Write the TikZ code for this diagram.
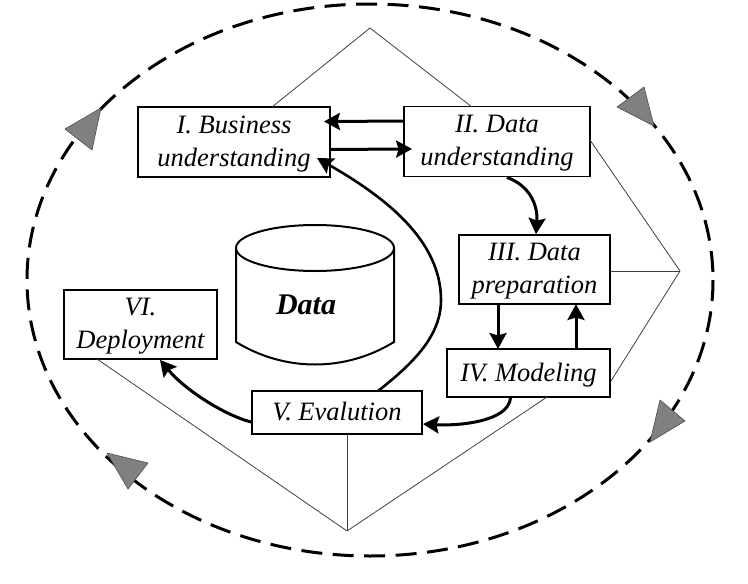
\documentclass[tikz,border=0pt]{standalone}
\usepackage{fontspec}
\setmainfont{Liberation Serif}
\usetikzlibrary{arrows.meta,positioning}

\begin{document}
\begin{tikzpicture}[
  x=1pt,y=-1pt,
  >={Stealth[length=16pt,width=17pt,inset=2.5pt]},
  phase/.style={
    draw,
    line width=1.8pt,
    fill=white,
    inner sep=0pt,
    align=center,
    text depth=2pt,
    font=\fontsize{26.5}{33}\selectfont\itshape
  },
  flow/.style={->,line width=3pt},
  frame/.style={draw=black!75,line width=0.8pt},
  turn/.style={draw=black!70,fill=black!50,line width=0.6pt,line join=round}
]
  \useasboundingbox (0,0) rectangle (748,584);

  % outer cycle
  \draw[line width=3pt,dash pattern=on 21pt off 10.5pt] (370,280) ellipse (343 and 276);
  \path[turn] (101,108) -- (65,129) -- (92,150) -- cycle;
  \path[turn] (617,107) -- (644,87) -- (654,126) -- cycle;
  \path[turn] (660,400) -- (685,421) -- (650,442) -- cycle;
  \path[turn] (107,453) -- (148,463) -- (128,489) -- cycle;

  % thin frame
  \coordinate (apex) at (370,28);
  \coordinate (tip) at (680,271);
  \coordinate (foot) at (347,531);
  \coordinate (apexleft) at (272,107);
  \coordinate (apexright) at (472,107);
  \coordinate (tipup) at (590,140);
  \coordinate (tiplow) at (611,381);
  \coordinate (footleft) at (97,359);
  \coordinate (footright) at (547,397);

  \node[phase,minimum width=192,minimum height=70] (business) at (234,142) {I. Business\\understanding};
  \node[phase,minimum width=186,minimum height=70] (dataund) at (497,141.5) {II. Data\\understanding};
  \node[phase,minimum width=151,minimum height=69] (prep) at (534.5,269.5) {III. Data\\preparation};
  \node[phase,minimum width=163,minimum height=48] (modeling) at (528.5,373) {IV. Modeling};
  \node[phase,minimum width=170,minimum height=43] (evaluation) at (337,412.5) {V. Evalution};
  \node[phase,minimum width=153,minimum height=69] (deployment) at (140.5,324.5) {VI.\\Deployment};

  \draw[frame] (apex) -- (apexleft);
  \draw[frame] (apex) -- (apexright);
  \draw[frame] (tip) -- (tipup);
  \draw[frame] (tip) -- (tip -| prep.east);
  \draw[frame] (tip) -- (tiplow);
  \draw[frame] (foot) -- (foot |- evaluation.south);
  \draw[frame] (foot) -- (footleft);
  \draw[frame] (foot) -- (footright);

  % data store
  \draw[line width=2pt,fill=white] (236,248) -- (236,342) .. controls (285,372) and (345,372) .. (394,342) -- (394,248);
  \draw[line width=2pt,fill=white] (315,248) ellipse (79 and 23);
  \node[font=\fontsize{30}{30}\selectfont\bfseries\itshape] (datalabel) at (306,305) {Data};

  % process arrows
  \draw[flow,shorten >=-7pt] ([yshift=20.5pt]dataund.west) -- ([yshift=20.5pt]business.east);
  \draw[flow,shorten >=-8pt] ([yshift=-7.5pt]business.east) -- ([yshift=-7.5pt,xshift=1pt]dataund.west);
  \draw[flow] ([xshift=10pt]dataund.south) .. controls +(22,8) and +(2,-30) .. ([xshift=1.5pt]prep.north);
  \draw[flow] (498,304) -- (498,349);
  \draw[flow] (576,349) -- (576,304);
  \draw[flow] ([xshift=-18pt]modeling.south) .. controls +(-2,24) and +(35,2) .. ([yshift=-11.5pt]evaluation.east);
  \draw[flow] ([yshift=-9.5pt]evaluation.west) .. controls +(-27,-7) and +(25,30) .. ([xshift=19.5pt]deployment.south);
  \draw[flow,line width=2.6pt] (378,391) .. controls (415,362) and (441,335) .. (441,300) .. controls (441,240) and (385,197) .. ([xshift=83pt,yshift=-16pt]business.center);
\end{tikzpicture}
\end{document}
